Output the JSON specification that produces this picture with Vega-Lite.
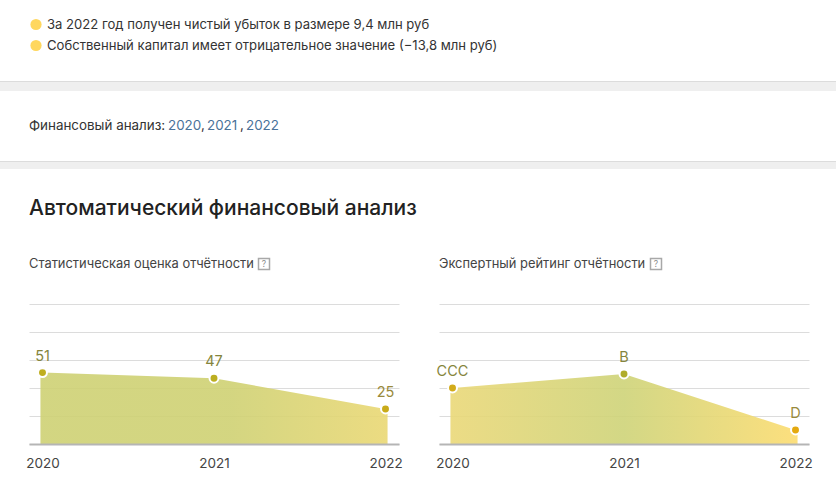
{
  "$schema": "https://vega.github.io/schema/vega-lite/v6.json",
  "padding": 0,
  "background": "white",
  "bounds": "flush",
  "spacing": 0,
  "resolve": {"scale": {"color": "independent"}},
  "config": {
    "font": "Inter",
    "view": {"stroke": null},
    "concat": {"spacing": 0}
  },
  "datasets": {
    "score_points": [
      {"year": 2020, "value": 51, "label": "51"},
      {"year": 2021, "value": 47, "label": "47"},
      {"year": 2022, "value": 25, "label": "25"}
    ],
    "score_area": [
      {"year": 2019.988, "value": 51},
      {"year": 2020, "value": 51},
      {"year": 2021, "value": 47},
      {"year": 2022, "value": 25},
      {"year": 2022.012, "value": 25}
    ],
    "rating_points": [
      {"year": 2020, "value": 40, "label": "CCC"},
      {"year": 2021, "value": 50, "label": "B"},
      {"year": 2022, "value": 10, "label": "D"}
    ],
    "rating_area": [
      {"year": 2019.988, "value": 40},
      {"year": 2020, "value": 40},
      {"year": 2021, "value": 50},
      {"year": 2022, "value": 10},
      {"year": 2022.012, "value": 10}
    ],
    "bullets": [
      {"line": 0, "text": "За 2022 год получен чистый убыток в размере 9,4 млн руб"},
      {"line": 1, "text": "Собственный капитал имеет отрицательное значение (−13,8 млн руб)"}
    ],
    "links": [
      {"part": 0, "kind": "plain", "text": "Финансовый анализ:"},
      {"part": 1, "kind": "link", "text": "2020"},
      {"part": 2, "kind": "plain", "text": ","},
      {"part": 3, "kind": "link", "text": "2021"},
      {"part": 4, "kind": "plain", "text": ","},
      {"part": 5, "kind": "link", "text": "2022"}
    ],
    "heading": [{"text": "Автоматический финансовый анализ"}],
    "subtitles": [
      {"col": 0, "text": "Статистическая оценка отчётности"},
      {"col": 1, "text": "Экспертный рейтинг отчётности"}
    ],
    "help": [
      {"col": 0, "text": "?"},
      {"col": 1, "text": "?"}
    ]
  },
  "vconcat": [
    {
      "width": 836,
      "height": 81,
      "data": {"name": "bullets"},
      "resolve": {"scale": {"x": "independent"}},
      "encoding": {
        "y": {"field": "line", "type": "quantitative", "axis": null, "scale": {"domain": [0, 1], "range": [24.5, 45.5]}}
      },
      "layer": [
        {
          "mark": {"type": "point", "filled": true, "size": 125, "opacity": 1, "color": "#ffd75e"},
          "encoding": {"x": {"datum": 36, "type": "quantitative", "axis": null, "scale": {"domain": [0, 836], "range": [0, 836]}}}
        },
        {
          "mark": {"type": "text", "align": "left", "baseline": "middle", "fontSize": 13.1, "color": "#333333"},
          "encoding": {
            "x": {"datum": 47, "type": "quantitative", "axis": null, "scale": {"domain": [0, 836], "range": [0, 836]}},
            "text": {"field": "text"}
          }
        }
      ]
    },
    {"width": 836, "height": 1, "view": {"fill": "#dcdcdc"}, "data": {"values": []}, "mark": "point"},
    {"width": 836, "height": 9, "view": {"fill": "#efefef"}, "data": {"values": []}, "mark": "point"},
    {
      "width": 836,
      "height": 70,
      "data": {"name": "links"},
      "mark": {"type": "text", "align": "left", "baseline": "middle", "fontSize": 13.4},
      "encoding": {
        "x": {
          "field": "part",
          "type": "quantitative",
          "axis": null,
          "scale": {"domain": [0, 1, 2, 3, 4, 5], "range": [29, 168, 201, 207, 240, 246]}
        },
        "y": {"datum": 34.5, "type": "quantitative", "axis": null, "scale": {"domain": [70, 0], "range": [70, 0]}},
        "text": {"field": "text"},
        "color": {"field": "kind", "type": "nominal", "legend": null, "scale": {"domain": ["plain", "link"], "range": ["#333333", "#4a7299"]}}
      }
    },
    {"width": 836, "height": 1, "view": {"fill": "#dcdcdc"}, "data": {"values": []}, "mark": "point"},
    {"width": 836, "height": 7, "view": {"fill": "#efefef"}, "data": {"values": []}, "mark": "point"},
    {
      "width": 836,
      "height": 134.5,
      "resolve": {"scale": {"x": "independent"}},
      "layer": [
        {
          "data": {"name": "heading"},
          "mark": {"type": "text", "align": "left", "baseline": "middle", "fontSize": 21, "fontWeight": 500, "color": "#222222"},
          "encoding": {
            "x": {"datum": 29, "type": "quantitative", "axis": null, "scale": {"domain": [0, 836], "range": [0, 836]}},
            "y": {"datum": 40, "type": "quantitative", "axis": null, "scale": {"domain": [134, 0], "range": [134, 0]}},
            "text": {"field": "text"}
          }
        },
        {
          "data": {"name": "subtitles"},
          "mark": {"type": "text", "align": "left", "baseline": "middle", "fontSize": 12.9, "color": "#444444"},
          "encoding": {
            "x": {"field": "col", "type": "quantitative", "axis": null, "scale": {"domain": [0, 1], "range": [29, 439]}},
            "y": {"datum": 94.5, "type": "quantitative", "axis": null, "scale": {"domain": [134, 0], "range": [134, 0]}},
            "text": {"field": "text"}
          }
        },
        {
          "data": {"name": "help"},
          "mark": {"type": "point", "shape": "square", "size": 121, "stroke": "#a8a8a8", "strokeWidth": 1.5, "fill": "white", "opacity": 1},
          "encoding": {
            "x": {"field": "col", "type": "quantitative", "axis": null, "scale": {"domain": [0, 1], "range": [264, 656]}},
            "y": {"datum": 95, "type": "quantitative", "axis": null, "scale": {"domain": [134, 0], "range": [134, 0]}}
          }
        },
        {
          "data": {"name": "help"},
          "mark": {"type": "text", "baseline": "middle", "fontSize": 8.5, "color": "#8c8c8c"},
          "encoding": {
            "x": {"field": "col", "type": "quantitative", "axis": null, "scale": {"domain": [0, 1], "range": [264, 656]}},
            "y": {"datum": 95, "type": "quantitative", "axis": null, "scale": {"domain": [134, 0], "range": [134, 0]}},
            "text": {"field": "text"}
          }
        }
      ]
    },
    {
      "bounds": "flush",
      "spacing": 0,
      "resolve": {"scale": {"color": "independent"}},
      "hconcat": [
        {"width": 29, "height": 140, "data": {"values": []}, "mark": "point"},
        {
          "width": 370,
          "height": 140,
          "encoding": {
            "x": {
              "field": "year",
              "type": "quantitative",
              "scale": {"domain": [2019.9213, 2022.0787]},
              "axis": {"values": [2020, 2021, 2022], "format": "d", "title": null, "grid": false, "ticks": false, "labelFontSize": 13.5, "labelColor": "#444444", "labelPadding": 12, "labelFlush": false, "domainColor": "#b5b5b5", "domainWidth": 2, "zindex": 1}
            },
            "y": {
              "field": "value",
              "type": "quantitative",
              "scale": {"domain": [0, 100]},
              "axis": {"values": [0, 20, 40, 60, 80, 100], "title": null, "labels": false, "ticks": false, "domain": false, "grid": true, "gridColor": "#dcdcdc", "gridWidth": 1}
            }
          },
          "layer": [
            {
              "data": {"name": "score_area"},
              "mark": {
                "type": "area",
                "fillOpacity": 0.9,
                "fill": {"gradient": "linear", "x1": 0, "y1": 0, "x2": 1, "y2": 0, "stops": [
                  {"offset": 0, "color": "#ced174"},
                  {"offset": 0.55, "color": "#cfd173"},
                  {"offset": 1, "color": "#ead874"}
                ]}
              }
            },
            {
              "data": {"name": "score_points"},
              "mark": {"type": "point", "filled": true, "size": 80, "opacity": 1, "stroke": "white", "strokeWidth": 2},
              "encoding": {
                "color": {"field": "year", "type": "nominal", "legend": null, "scale": {"domain": [2020, 2021, 2022], "range": ["#bfae1f", "#bcae20", "#c9ab1a"]}}
              }
            },
            {
              "data": {"name": "score_points"},
              "mark": {"type": "text", "dy": -16, "fontSize": 14.5},
              "encoding": {
                "text": {"field": "label"},
                "fill": {"field": "year", "type": "nominal", "legend": null, "scale": {"domain": [2020, 2021, 2022], "range": ["#85853c", "#85853c", "#998a3c"]}}
              }
            }
          ]
        },
        {"width": 40, "height": 140, "data": {"values": []}, "mark": "point"},
        {
          "width": 370,
          "height": 140,
          "encoding": {
            "x": {
              "field": "year",
              "type": "quantitative",
              "scale": {"domain": [2019.9213, 2022.0787]},
              "axis": {"values": [2020, 2021, 2022], "format": "d", "title": null, "grid": false, "ticks": false, "labelFontSize": 13.5, "labelColor": "#444444", "labelPadding": 12, "labelFlush": false, "domainColor": "#b5b5b5", "domainWidth": 2, "zindex": 1}
            },
            "y": {
              "field": "value",
              "type": "quantitative",
              "scale": {"domain": [0, 100]},
              "axis": {"values": [0, 20, 40, 60, 80, 100], "title": null, "labels": false, "ticks": false, "domain": false, "grid": true, "gridColor": "#dcdcdc", "gridWidth": 1}
            }
          },
          "layer": [
            {
              "data": {"name": "rating_area"},
              "mark": {
                "type": "area",
                "fillOpacity": 0.9,
                "fill": {"gradient": "linear", "x1": 0, "y1": 0, "x2": 1, "y2": 0, "stops": [
                  {"offset": 0, "color": "#ead878"},
                  {"offset": 0.5, "color": "#ced378"},
                  {"offset": 1, "color": "#fcdc70"}
                ]}
              }
            },
            {
              "data": {"name": "rating_points"},
              "mark": {"type": "point", "filled": true, "size": 80, "opacity": 1, "stroke": "white", "strokeWidth": 2},
              "encoding": {
                "color": {"field": "year", "type": "nominal", "legend": null, "scale": {"domain": [2020, 2021, 2022], "range": ["#d2ab1a", "#b0ac2a", "#e4a90f"]}}
              }
            },
            {
              "data": {"name": "rating_points"},
              "mark": {"type": "text", "dy": -16, "fontSize": 14.5},
              "encoding": {
                "text": {"field": "label"},
                "fill": {"field": "year", "type": "nominal", "legend": null, "scale": {"domain": [2020, 2021, 2022], "range": ["#8f7f3a", "#85853c", "#a87f3a"]}}
              }
            }
          ]
        },
        {"width": 27, "height": 140, "data": {"values": []}, "mark": "point"}
      ]
    },
    {"width": 836, "height": 48.5, "data": {"values": []}, "mark": "point"}
  ]
}
